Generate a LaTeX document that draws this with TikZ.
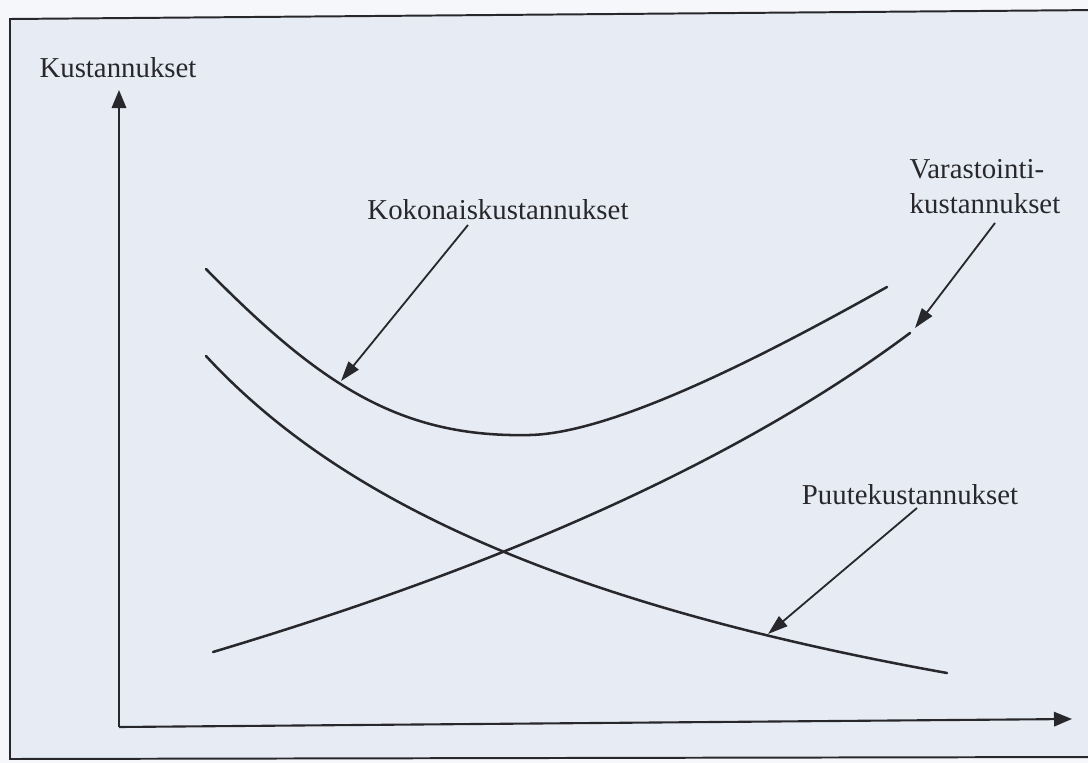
\documentclass[tikz,border=0pt]{standalone}
\definecolor{paperwhite}{RGB}{246, 247, 250}
\definecolor{scanblue}{RGB}{231, 236, 244}
\definecolor{ink}{RGB}{40, 40, 44}
\usepackage{fontspec}
\setmainfont{Liberation Serif}
\usepackage{tikz}
\usetikzlibrary{arrows.meta}

\begin{document}
\begin{tikzpicture}[x=0.025cm, y=-0.025cm,
    curve/.style={ink, line width=1.8pt, line cap=round},
    axis/.style={ink, line width=1.5pt, -{Triangle[length=0.45cm, width=0.36cm]}},
    pointer/.style={ink, line width=1.3pt, -{Triangle[length=0.5cm, width=0.32cm]}},
    lbl/.style={text=ink, inner sep=0pt, font=\fontsize{20.5}{25}\selectfont}]
    \useasboundingbox (0,0) rectangle (1088,763);
    % paper and frame
    \fill[paperwhite] (0,0) rectangle (1088,763);
    \fill[scanblue] (1100,10) -- (10,19) -- (10,759) -- (1100,757) -- cycle;
    \draw[ink, line width=1.4pt] (1100,10) -- (10,19) -- (10,759) -- (1100,757);
    % axes
    \coordinate (origo) at (119,727);
    \coordinate (ytip) at (119,90);
    \coordinate (xtip) at (1072,719);
    \draw[axis] (origo) -- (ytip);
    \draw[axis] (origo) -- (xtip);
    \node[lbl] (kust) at (118,68) {Kustannukset};
    % kokonaiskustannukset
    \draw[curve] (206,269) .. controls (320,385) and (400,438) .. (530,435)
      .. controls (620,433) and (787,343) .. (887,287);
    % varastointikustannukset
    \draw[curve] (213,652) .. controls (420,590) and (700,490) .. (910,333);
    % puutekustannukset
    \draw[curve] (206,356) .. controls (330,490) and (540,600) .. (947,673);
    % labels
    \node[lbl] (kokon) at (498,210) {Kokonaiskustannukset};
    \node[lbl, align=left] (varast) at (985,187) {Varastointi-\\kustannukset};
    \node[lbl] (puute) at (910,495) {Puutekustannukset};
    \coordinate (kokonfrom) at (468,225);
    \coordinate (kokonto) at (341,381);
    \coordinate (varastfrom) at (995,223);
    \coordinate (varastto) at (915,328);
    \coordinate (puutefrom) at (917,508);
    \coordinate (puuteto) at (768,634);
    \draw[pointer] (kokonfrom) -- (kokonto);
    \draw[pointer] (varastfrom) -- (varastto);
    \draw[pointer] (puutefrom) -- (puuteto);
\end{tikzpicture}
\end{document}
